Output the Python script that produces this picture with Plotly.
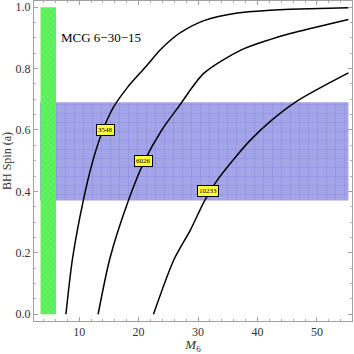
import plotly.graph_objects as go

# Curves: M6 against BH spin
m_3548 = [7.77, 8.9, 10.7, 12.3, 14.0, 15.7, 18.1, 21.2, 23.7, 25.4, 27.1, 31.0, 36.6, 42.2, 45.5, 55.3]
a_3548 = [0.0, 0.184, 0.371, 0.50, 0.60, 0.672, 0.738, 0.806, 0.862, 0.893, 0.918, 0.956, 0.981, 0.99, 0.993, 0.998]

m_6026 = [13.19, 15.2, 18.3, 21.0, 23.9, 26.7, 31.0, 37.2, 42.2, 45.5, 55.3]
a_6026 = [0.0, 0.184, 0.371, 0.50, 0.60, 0.675, 0.785, 0.86, 0.895, 0.914, 0.96]

m_10233 = [22.5, 25.9, 28.7, 31.0, 33.2, 35.8, 38.8, 42.4, 46.9, 55.3]
a_10233 = [0.0, 0.176, 0.274, 0.366, 0.436, 0.50, 0.567, 0.632, 0.697, 0.786]

# curve labels
label_text = ["3548", "6026", "10233"]
label_x = [14.5, 20.9, 31.7]
label_y = [0.60, 0.50, 0.40]

# shaded bands
spin_lo, spin_hi = 0.37, 0.69
band_x = [3.4, 55.3]
mass_lo, mass_hi = 3.5, 6.1

serif = "Liberation Serif"

fig = go.Figure()

# blue spin band
fig.add_trace(go.Scatter(
    x=[band_x[0], band_x[1], band_x[1], band_x[0], band_x[0]],
    y=[spin_lo, spin_lo, spin_hi, spin_hi, spin_lo],
    fill="toself", mode="none", fillcolor="#a0a0e6",
    fillpattern=dict(shape="+", fgcolor="#7c7cd8", bgcolor="#a4a4e8", size=9, solidity=0.15),
    showlegend=False, hoverinfo="skip"))

# green mass band
fig.add_trace(go.Scatter(
    x=[mass_lo, mass_hi, mass_hi, mass_lo, mass_lo],
    y=[0, 0, 1, 1, 0],
    fill="toself", mode="none", fillcolor="#40f040",
    fillpattern=dict(shape="x", fgcolor="#28e028", bgcolor="#66f266", size=4, solidity=0.3),
    showlegend=False, hoverinfo="skip"))

for xs, ys in [(m_3548, a_3548), (m_6026, a_6026), (m_10233, a_10233)]:
    fig.add_trace(go.Scatter(x=xs, y=ys, mode="lines",
                             line=dict(color="black", width=1.5, shape="spline", smoothing=0.8),
                             showlegend=False, hoverinfo="skip"))

for t, x, y in zip(label_text, label_x, label_y):
    fig.add_annotation(x=x, y=y, text=t, showarrow=False, bgcolor="#ffff40", bordercolor="black",
                       borderwidth=1, borderpad=1, font=dict(family=serif, size=7, color="black"))

fig.add_annotation(x=13.6, y=0.9, text="MCG 6\u221230\u221215", showarrow=False,
                   font=dict(family=serif, size=13, color="black"))

axis_common = dict(showgrid=False, zeroline=False, showline=True, linecolor="#a0a0a0", linewidth=1,
                   mirror="ticks", ticks="inside", ticklen=4, tickcolor="#a0a0a0", automargin=False,
                   tickfont=dict(family=serif, size=12, color="#333333"))

fig.update_xaxes(range=[2.4, 55.9], tickvals=[10, 20, 30, 40, 50],
                 minor=dict(dtick=2, ticks="inside", ticklen=2, tickcolor="#b0b0b0"),
                 title=dict(text="<i>M</i><sub>6</sub>", font=dict(family=serif, size=13, color="#333333"),
                            standoff=2),
                 **axis_common)
fig.update_yaxes(range=[-0.022, 1.02], tickvals=[0, 0.2, 0.4, 0.6, 0.8, 1.0], tickformat=".1f",
                 minor=dict(dtick=0.05, ticks="inside", ticklen=2, tickcolor="#b0b0b0"),
                 title=dict(text="BH Spin (a)", font=dict(family=serif, size=12, color="#333333"),
                            standoff=2),
                 **axis_common)

fig.update_layout(width=354, height=354, margin=dict(l=34, r=2, t=1, b=33),
                  plot_bgcolor="white", paper_bgcolor="white")

# drop the page's default body margin so the figure sits at the window's corner
fig.write_html("out.html", config={"displayModeBar": False},
               post_script="document.body.style.margin='0';")
